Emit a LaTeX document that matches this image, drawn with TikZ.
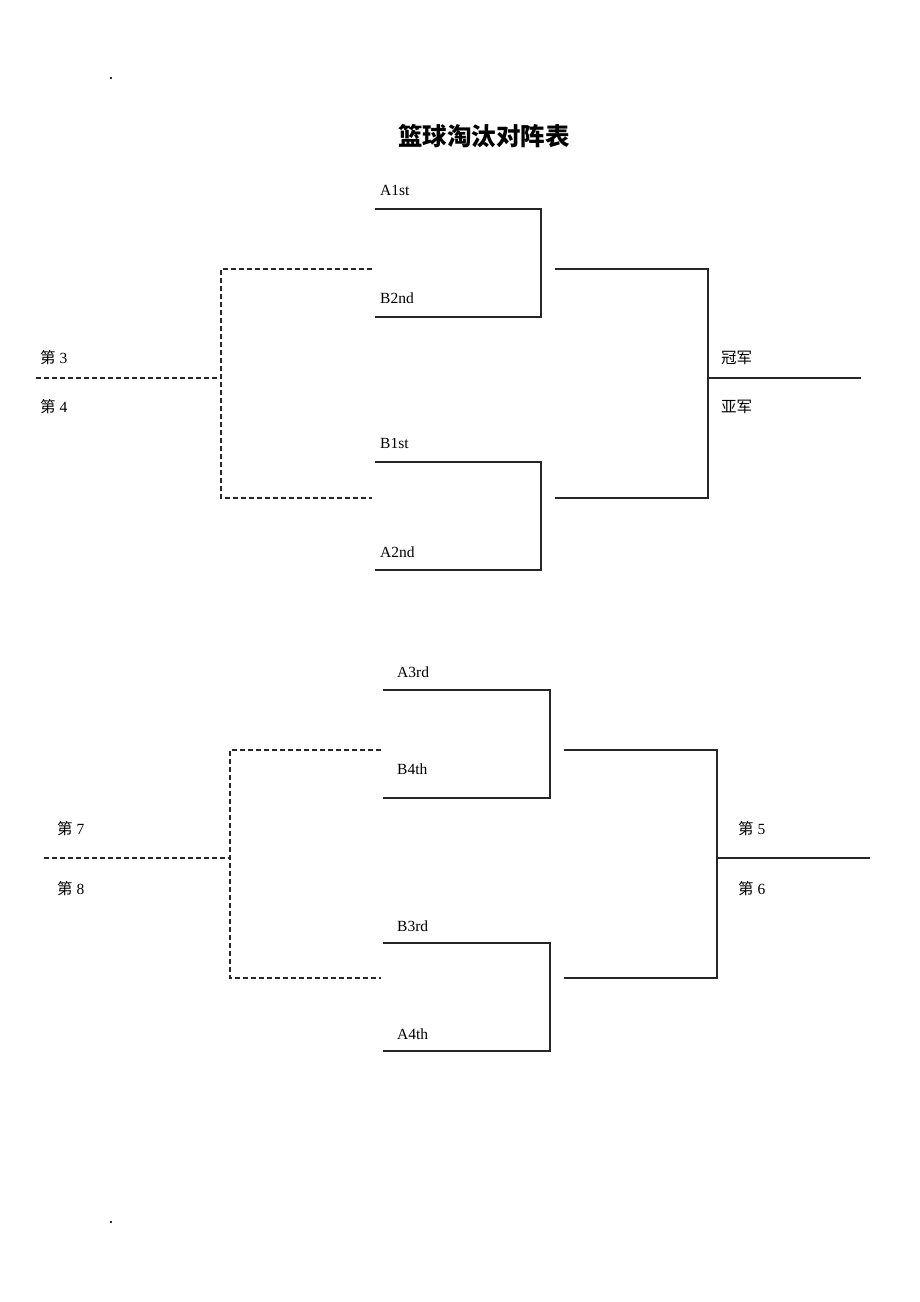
\documentclass[tikz,border=0pt]{standalone}
\usepackage{fontspec}
\setmainfont{Liberation Serif}
\newfontfamily\cjk{Noto Sans CJK SC}
\usetikzlibrary{positioning}

\begin{document}
\begin{tikzpicture}[x=1pt,y=-1pt]
	\tikzset{line/.style={line width=1.1pt, black!85}, dline/.style={line, dash pattern=on 5pt off 3pt},
		lbl/.style={anchor=base west, inner sep=0pt, font=\fontsize{15.5}{15.5}\selectfont},
		dot/.style={fill=black!80, inner sep=0pt, minimum size=1.6pt}}
	\useasboundingbox (0,0) rectangle (920,1302);

	\node[dot] (dot1) at (111,78) {};
	\node[dot] (dot2) at (111,1222) {};
	\node[font=\cjk\bfseries\fontsize{24.5}{24.5}\selectfont] (title) at (484,136) {篮球淘汰对阵表};

	% upper bracket
	\coordinate (a1l) at (375,209); \coordinate (a1r) at (541,209);
	\coordinate (b2l) at (375,317); \coordinate (b2r) at (541,317);
	\coordinate (b1l) at (375,462); \coordinate (b1r) at (541,462);
	\coordinate (a2l) at (375,570); \coordinate (a2r) at (541,570);
	\coordinate (s1l) at (555,269); \coordinate (s1r) at (708,269);
	\coordinate (s2l) at (555,498); \coordinate (s2r) at (708,498);
	\coordinate (fl) at (708,378); \coordinate (fr) at (861,378);
	\coordinate (d1r) at (372,269); \coordinate (d1l) at (221,269);
	\coordinate (d2r) at (372,498); \coordinate (d2l) at (221,498);
	\coordinate (t3l) at (36,378); \coordinate (t3r) at (221,378);

	\draw[line] (a1l) -- (a1r) -- (b2r) -- (b2l);
	\draw[line] (b1l) -- (b1r) -- (a2r) -- (a2l);
	\draw[line] (s1l) -- (s1r) -- (s2r) -- (s2l);
	\draw[line] (fl) -- (fr);
	\draw[dline] (d1r) -- (d1l) -- (d2l) -- (d2r);
	\draw[dline] (t3l) -- (t3r);

	\node[lbl] (la1) at (380,195) {A1st};
	\node[lbl] (lb2) at (380,303) {B2nd};
	\node[lbl] (lb1) at (380,448) {B1st};
	\node[lbl] (la2) at (380,557) {A2nd};
	\node[lbl] (champ) at (721,363) {\cjk 冠军};
	\node[lbl] (second) at (721,412) {\cjk 亚军};
	\node[lbl] (third) at (40,363) {{\cjk 第} 3};
	\node[lbl] (fourth) at (40,412) {{\cjk 第} 4};

	% lower bracket
	\coordinate (a3l) at (383,690); \coordinate (a3r) at (550,690);
	\coordinate (b4l) at (383,798); \coordinate (b4r) at (550,798);
	\coordinate (b3l) at (383,943); \coordinate (b3r) at (550,943);
	\coordinate (a4l) at (383,1051); \coordinate (a4r) at (550,1051);
	\coordinate (s3l) at (564,750); \coordinate (s3r) at (717,750);
	\coordinate (s4l) at (564,978); \coordinate (s4r) at (717,978);
	\coordinate (gl) at (717,858); \coordinate (gr) at (870,858);
	\coordinate (d3r) at (381,750); \coordinate (d3l) at (230,750);
	\coordinate (d4r) at (381,978); \coordinate (d4l) at (230,978);
	\coordinate (t7l) at (44,858); \coordinate (t7r) at (230,858);

	\draw[line] (a3l) -- (a3r) -- (b4r) -- (b4l);
	\draw[line] (b3l) -- (b3r) -- (a4r) -- (a4l);
	\draw[line] (s3l) -- (s3r) -- (s4r) -- (s4l);
	\draw[line] (gl) -- (gr);
	\draw[dline] (d3r) -- (d3l) -- (d4l) -- (d4r);
	\draw[dline] (t7l) -- (t7r);

	\node[lbl] (la3) at (397,677) {A3rd};
	\node[lbl] (lb4) at (397,774) {B4th};
	\node[lbl] (lb3) at (397,931) {B3rd};
	\node[lbl] (la4) at (397,1039) {A4th};
	\node[lbl] (fifth) at (738,834) {{\cjk 第} 5};
	\node[lbl] (sixth) at (738,894) {{\cjk 第} 6};
	\node[lbl] (seventh) at (57,834) {{\cjk 第} 7};
	\node[lbl] (eighth) at (57,894) {{\cjk 第} 8};
\end{tikzpicture}
\end{document}
